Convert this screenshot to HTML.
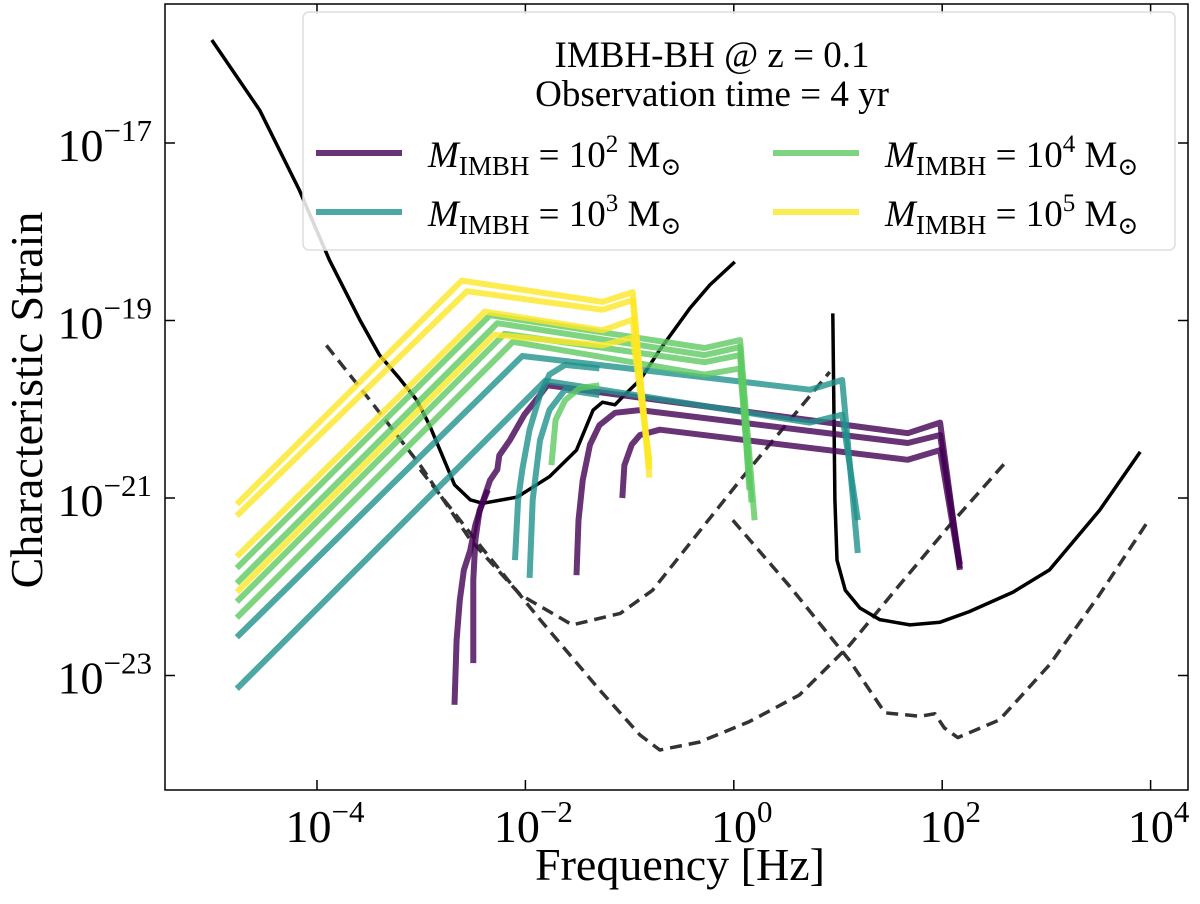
<!DOCTYPE html>
<html><head><meta charset="utf-8"><style>
html,body{margin:0;padding:0;background:#fff}
svg{display:block;font-family:"Liberation Serif","DejaVu Serif",serif}
</style></head><body>
<svg id="chart" width="1200" height="904" viewBox="0 0 1200 904" xmlns="http://www.w3.org/2000/svg">
<g id="plot"></g>
<rect x="165" y="4" width="1023" height="786" fill="none" stroke="#000" stroke-width="1.5"/>
<g id="ticks"></g>
<text x="680" y="880" font-size="46" text-anchor="middle">Frequency [Hz]</text>
<text transform="translate(42,400) rotate(-90)" font-size="46" text-anchor="middle">Characteristic Strain</text>
<g>
<rect x="303" y="12" width="872" height="238" rx="6" fill="#fff" fill-opacity="0.85" stroke="#ddd" stroke-width="1.5"/>
<text x="712" y="67" font-size="37" text-anchor="middle">IMBH-BH @ z = 0.1</text>
<text x="712" y="106" font-size="37" text-anchor="middle">Observation time = 4 yr</text>
<line x1="316" y1="153" x2="402" y2="153" stroke="#440154" stroke-opacity="0.8" stroke-width="6"/>
<text x="428" y="167" font-size="37"><tspan font-style="italic">M</tspan><tspan font-size="27" dy="8">IMBH</tspan><tspan dy="-8"> = 10</tspan><tspan font-size="25" dy="-15">2</tspan><tspan dy="15"> M</tspan><tspan font-size="25" dy="8">⊙</tspan></text>
<line x1="316" y1="212" x2="402" y2="212" stroke="#21918c" stroke-opacity="0.8" stroke-width="6"/>
<text x="428" y="226" font-size="37"><tspan font-style="italic">M</tspan><tspan font-size="27" dy="8">IMBH</tspan><tspan dy="-8"> = 10</tspan><tspan font-size="25" dy="-15">3</tspan><tspan dy="15"> M</tspan><tspan font-size="25" dy="8">⊙</tspan></text>
<line x1="773" y1="153" x2="859" y2="153" stroke="#5ec962" stroke-opacity="0.8" stroke-width="6"/>
<text x="885" y="167" font-size="37"><tspan font-style="italic">M</tspan><tspan font-size="27" dy="8">IMBH</tspan><tspan dy="-8"> = 10</tspan><tspan font-size="25" dy="-15">4</tspan><tspan dy="15"> M</tspan><tspan font-size="25" dy="8">⊙</tspan></text>
<line x1="773" y1="212" x2="859" y2="212" stroke="#fde725" stroke-opacity="0.8" stroke-width="6"/>
<text x="885" y="226" font-size="37"><tspan font-style="italic">M</tspan><tspan font-size="27" dy="8">IMBH</tspan><tspan dy="-8"> = 10</tspan><tspan font-size="25" dy="-15">5</tspan><tspan dy="15"> M</tspan><tspan font-size="25" dy="8">⊙</tspan></text>
</g>
</svg>
<script>
// log10 frequency [Hz] / log10 characteristic strain
const xTickExps = [-4, -2, 0, 2, 4];
const yTickExps = [-17, -19, -21, -23];

const y1F = [-4.77,-2.61,-1.26,-0.97,-0.81], y1H = [-21.07,-18.55,-18.79,-18.68,-20.77];
const y2F = [-4.77,-2.56,-1.26,-0.97,-0.81], y2H = [-21.20,-18.67,-18.88,-18.77,-20.68];
const y3F = [-4.77,-2.39,-1.26,-0.97,-0.81], y3H = [-21.66,-18.90,-19.11,-18.99,-20.63];
const y4F = [-4.77,-2.30,-1.26,-0.97,-0.81], y4H = [-22.06,-19.16,-19.28,-19.19,-20.57];

const g1F = [-4.77,-2.34,-0.28,0.06,0.20], g1H = [-21.79,-18.94,-19.31,-19.22,-21.25];
const g2F = [-4.77,-2.27,-0.28,0.06,0.17], g2H = [-21.96,-19.03,-19.39,-19.30,-21.05];
const g3F = [-4.77,-2.20,-0.28,0.06,0.15], g3H = [-22.17,-19.15,-19.47,-19.39,-20.91];
const g4F = [-4.77,-2.12,-0.28,0.06,0.15], g4H = [-22.35,-19.24,-19.61,-19.54,-20.80];
const gcF = [-1.75,-1.71,-1.62,-1.48,-1.29], gcH = [-20.63,-20.12,-19.90,-19.76,-19.73];

const t1F = [-4.77,-2.03,0.73,1.04,1.19], t1H = [-22.57,-19.40,-19.78,-19.67,-21.62];
const t2F = [-4.77,-1.81,0.73,1.04,1.19], t2H = [-23.15,-19.68,-20.15,-20.06,-21.25];
const tc1F = [-2.10,-2.07,-2.03,-1.96,-1.86,-1.77,-1.62,-1.29], tc1H = [-21.70,-21.02,-20.68,-20.23,-19.84,-19.61,-19.50,-19.54];
const tc2F = [-1.96,-1.93,-1.86,-1.77,-1.62,-1.29], tc2H = [-21.90,-21.02,-20.35,-20.01,-19.78,-19.84];

const p1F = [-2.68,-2.66,-2.63,-2.59,-2.53,-2.48,-2.42,-2.34,-2.27,-2.25,-2.15,-2.01,-1.86,-1.79,1.67,1.98,2.17];
const p1H = [-23.33,-22.60,-22.15,-21.81,-21.59,-21.30,-21.08,-20.80,-20.68,-20.52,-20.35,-20.06,-19.84,-19.73,-20.27,-20.15,-21.81];
const p1bF = [-2.50,-2.50,-2.48,-2.44,-2.36], p1bH = [-22.86,-21.92,-21.47,-21.14,-20.91];
const p2F = [-1.51,-1.49,-1.45,-1.38,-1.29,-1.14,-0.90,1.67,1.98,2.17], p2H = [-21.87,-21.25,-20.80,-20.40,-20.18,-20.04,-20.01,-20.38,-20.29,-21.75];
const p3F = [-1.07,-1.05,-0.98,-0.90,-0.71,1.67,1.98,2.17], p3H = [-21.00,-20.63,-20.40,-20.29,-20.23,-20.57,-20.46,-21.79];

const lisaF = [-5.01,-4.55,-4.17,-3.88,-3.59,-3.40,-3.21,-3.04,-2.92,-2.82,-2.68,-2.53,-2.41,-2.08,-1.77,-1.51,-1.35,-1.26,-1.14,-1.05,-0.90,-0.71,-0.42,-0.23,0.01];
const lisaH = [-15.84,-16.63,-17.53,-18.32,-18.99,-19.39,-19.65,-19.90,-20.18,-20.46,-20.85,-21.02,-21.06,-20.99,-20.76,-20.46,-20.01,-19.92,-19.95,-19.84,-19.67,-19.33,-18.86,-18.60,-18.34];
const groundF = [0.95,0.96,0.97,0.99,1.07,1.21,1.40,1.69,1.98,2.26,2.68,3.03,3.51,3.90];
const groundH = [-18.92,-19.90,-21.02,-21.70,-22.04,-22.24,-22.37,-22.43,-22.40,-22.28,-22.06,-21.81,-21.14,-20.48];
const dashAF = [-3.91,-3.49,-3.01,-2.53,-2.05,-1.55,-1.09,-0.78,0.06,0.92];
const dashAH = [-19.28,-19.90,-20.63,-21.47,-22.09,-22.43,-22.30,-22.04,-20.80,-19.58];
const dashBF = [-3.01,-2.44,-1.86,-1.29,-0.90,-0.71,-0.33,0.15,0.63,1.11,1.59,2.07,2.63];
const dashBH = [-20.68,-21.53,-22.37,-23.16,-23.67,-23.84,-23.75,-23.52,-23.22,-22.66,-21.98,-21.31,-20.57];
const dashCF = [-0.01,0.54,1.11,1.45,1.79,1.93,2.02,2.15,2.55,3.03,3.51,3.97];
const dashCH = [-21.25,-22.00,-22.83,-23.42,-23.46,-23.43,-23.59,-23.70,-23.50,-22.88,-22.09,-21.27];

const NS = 'http://www.w3.org/2000/svg';
function xs(lf){ return 733.8 + lf*104.2; }
function ys(lh){ return 143 + (-17 - lh)*88.75; }
const plot = document.getElementById('plot');
const ticks = document.getElementById('ticks');

function drawLine(F, H, color, width, opacity, dash, name){
  const p = document.createElementNS(NS,'polyline');
  p.setAttribute('points', F.map((f,i)=>xs(f).toFixed(1)+','+ys(H[i]).toFixed(1)).join(' '));
  p.setAttribute('fill','none');
  p.setAttribute('stroke',color);
  p.setAttribute('stroke-width',width);
  p.setAttribute('stroke-opacity',opacity);
  p.setAttribute('stroke-linejoin','round');
  if(dash) p.setAttribute('stroke-dasharray',dash);
  
  
  plot.appendChild(p);
}
const PUR='#440154', TEA='#21918c', GRE='#5ec962', YEL='#fde725';
drawLine(dashAF,dashAH,'#333',3.5,1,'12,7','sensitivity-dashed-a');
drawLine(dashBF,dashBH,'#333',3.5,1,'12,7','sensitivity-dashed-b');
drawLine(dashCF,dashCH,'#333',3.5,1,'12,7','sensitivity-dashed-c');
drawLine(lisaF,lisaH,'#000',3.5,1,null,'lisa-sensitivity');
drawLine(groundF,groundH,'#000',3.5,1,null,'ground-sensitivity');
drawLine(p1F,p1H,PUR,6,0.8,null,'track-1e2-a');
drawLine(p1bF,p1bH,PUR,6,0.8,null,'track-1e2-b');
drawLine(p2F,p2H,PUR,6,0.8,null,'track-1e2-c');
drawLine(p3F,p3H,PUR,6,0.8,null,'track-1e2-d');
drawLine(t2F,t2H,TEA,6,0.8,null,'track-1e3-b');
drawLine(t1F,t1H,TEA,6,0.8,null,'track-1e3-a');
drawLine(tc1F,tc1H,TEA,6,0.8,null,'track-1e3-chirp-a');
drawLine(tc2F,tc2H,TEA,6,0.8,null,'track-1e3-chirp-b');
drawLine(g4F,g4H,GRE,6,0.8,null,'track-1e4-d');
drawLine(g3F,g3H,GRE,6,0.8,null,'track-1e4-c');
drawLine(g2F,g2H,GRE,6,0.8,null,'track-1e4-b');
drawLine(g1F,g1H,GRE,6,0.8,null,'track-1e4-a');
drawLine(gcF,gcH,GRE,6,0.8,null,'track-1e4-chirp');
drawLine(y4F,y4H,YEL,6,0.8,null,'track-1e5-d');
drawLine(y3F,y3H,YEL,6,0.8,null,'track-1e5-c');
drawLine(y2F,y2H,YEL,6,0.8,null,'track-1e5-b');
drawLine(y1F,y1H,YEL,6,0.8,null,'track-1e5-a');

function tickLine(x1,y1,x2,y2){
  const l=document.createElementNS(NS,'line');
  l.setAttribute('x1',x1);l.setAttribute('y1',y1);l.setAttribute('x2',x2);l.setAttribute('y2',y2);
  l.setAttribute('stroke','#000');l.setAttribute('stroke-width','1.5');
  
  
  ticks.appendChild(l);
}
function label(x,y,exp,anchor,name){
  const t=document.createElementNS(NS,'text');
  t.setAttribute('x',x);t.setAttribute('y',y);t.setAttribute('font-size','46');t.setAttribute('text-anchor',anchor);
  t.innerHTML='10<tspan font-size="31" dy="-20">'+(exp<0?'\u2212':'')+Math.abs(exp)+'</tspan>';
  
  
  ticks.appendChild(t);
}
xTickExps.forEach(e=>{
  const x=xs(e);
  tickLine(x,790,x,780); tickLine(x,4,x,14);
  label(x+8,842,e,'middle','x-tick-label');
});
yTickExps.forEach(e=>{
  const y=ys(e);
  tickLine(165,y,175,y); tickLine(1188,y,1178,y);
  label(152,y+18,e,'end','y-tick-label');
});
</script>
</body></html>
